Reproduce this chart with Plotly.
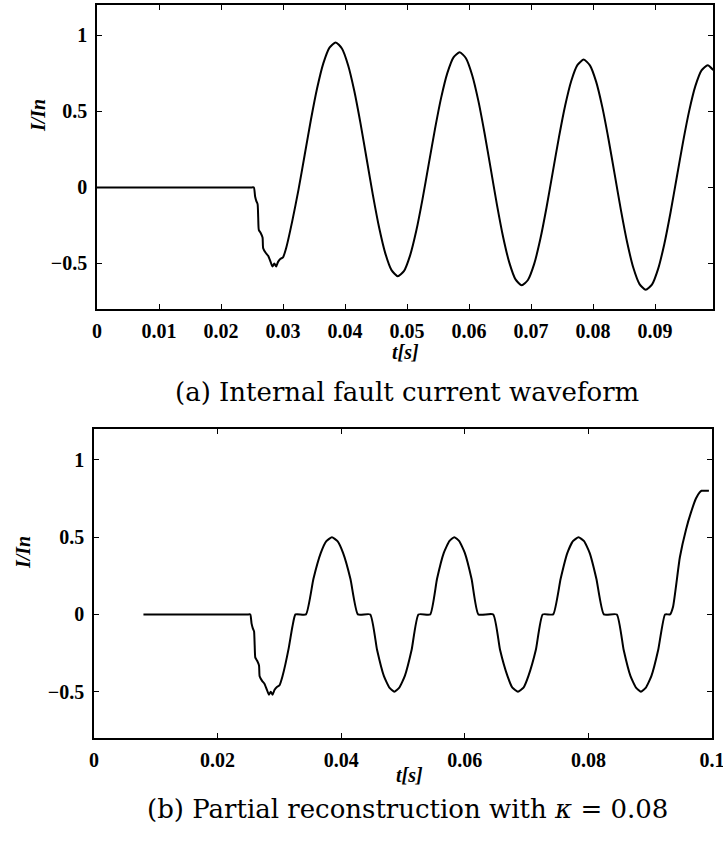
import plotly.graph_objects as go

# ---------------- data: (a) internal fault current waveform ----------------
t_a = [0.0, 0.0250, 0.0253, 0.0255, 0.0257, 0.0259, 0.0260, 0.0261, 0.0264, 0.0267,
       0.0268, 0.0272, 0.0276, 0.0280, 0.0283, 0.0286, 0.0289, 0.0292, 0.0296, 0.0300,
       0.0305, 0.0315, 0.0325, 0.0335, 0.0345, 0.0355, 0.0365, 0.0375, 0.0385, 0.0395,
       0.0405, 0.0415, 0.0425, 0.0435, 0.0445, 0.0455, 0.0465, 0.0475, 0.0485, 0.0495,
       0.0505, 0.0515, 0.0525, 0.0535, 0.0545, 0.0555, 0.0565, 0.0575, 0.0585, 0.0595,
       0.0605, 0.0615, 0.0625, 0.0635, 0.0645, 0.0655, 0.0665, 0.0675, 0.0685, 0.0695,
       0.0705, 0.0715, 0.0725, 0.0735, 0.0745, 0.0755, 0.0765, 0.0775, 0.0785, 0.0795,
       0.0805, 0.0815, 0.0825, 0.0835, 0.0845, 0.0855, 0.0865, 0.0875, 0.0885, 0.0895,
       0.0905, 0.0915, 0.0925, 0.0935, 0.0945, 0.0955, 0.0965, 0.0975, 0.0985, 0.0994]
i_a = [0.0, 0.0, 0.0, -0.06, -0.09, -0.11, -0.20, -0.28, -0.30, -0.33,
       -0.40, -0.43, -0.45, -0.49, -0.52, -0.50, -0.52, -0.49, -0.47, -0.46,
       -0.40, -0.22, -0.015, 0.215, 0.445, 0.652, 0.816, 0.920, 0.954, 0.914,
       0.804, 0.634, 0.421, 0.185, -0.051, -0.264, -0.434, -0.544, -0.584, -0.551,
       -0.447, -0.284, -0.077, 0.153, 0.382, 0.589, 0.752, 0.856, 0.889, 0.850,
       0.740, 0.571, 0.358, 0.123, -0.113, -0.326, -0.495, -0.605, -0.644, -0.609,
       -0.505, -0.340, -0.132, 0.099, 0.329, 0.537, 0.702, 0.806, 0.841, 0.803,
       0.696, 0.528, 0.317, 0.084, -0.150, -0.361, -0.529, -0.636, -0.674, -0.640,
       -0.536, -0.372, -0.165, 0.065, 0.295, 0.502, 0.666, 0.770, 0.804, 0.771]

# ---------------- data: (b) partial reconstruction ----------------
t_b = [0.0080, 0.0250, 0.0253, 0.0255, 0.0257, 0.0259, 0.0260, 0.0261, 0.0264, 0.0267,
       0.0268, 0.0272, 0.0276, 0.0280, 0.0283, 0.0286, 0.0289, 0.0292, 0.0296, 0.0300,
       0.0305, 0.0315, 0.0321, 0.0326,
       0.0343, 0.0355, 0.0367, 0.0376, 0.0385, 0.0394, 0.0403, 0.0415, 0.0427,
       0.0447, 0.0458, 0.0469, 0.0478, 0.0486, 0.0494, 0.0503, 0.0514, 0.0525,
       0.0544, 0.0555, 0.0566, 0.0575, 0.0583, 0.0591, 0.0600, 0.0611, 0.0622,
       0.0646, 0.0657, 0.0669, 0.0677, 0.0686, 0.0695, 0.0703, 0.0715, 0.0726,
       0.0743, 0.0755, 0.0766, 0.0775, 0.0784, 0.0793, 0.0802, 0.0813, 0.0825,
       0.0846, 0.0857, 0.0868, 0.0877, 0.0885, 0.0893, 0.0902, 0.0913, 0.0924,
       0.0932, 0.0937, 0.0948, 0.0958, 0.0966, 0.0974, 0.0980, 0.0983, 0.0995]
i_b = [0.0, 0.0, 0.0, -0.06, -0.09, -0.11, -0.20, -0.28, -0.30, -0.33,
       -0.40, -0.43, -0.45, -0.49, -0.52, -0.50, -0.52, -0.49, -0.47, -0.46,
       -0.40, -0.22, -0.08, 0.0,
       0.0, 0.229, 0.398, 0.474, 0.5, 0.474, 0.398, 0.229, 0.0,
       0.0, -0.229, -0.398, -0.474, -0.5, -0.474, -0.398, -0.229, 0.0,
       0.0, 0.229, 0.398, 0.474, 0.5, 0.474, 0.398, 0.229, 0.0,
       0.0, -0.229, -0.398, -0.474, -0.5, -0.474, -0.398, -0.229, 0.0,
       0.0, 0.229, 0.398, 0.474, 0.5, 0.474, 0.398, 0.229, 0.0,
       0.0, -0.229, -0.398, -0.474, -0.5, -0.474, -0.398, -0.229, 0.0,
       0.0, 0.05, 0.37, 0.55, 0.66, 0.75, 0.79, 0.80, 0.80]

x_ticks_a = [0, 0.01, 0.02, 0.03, 0.04, 0.05, 0.06, 0.07, 0.08, 0.09]
x_text_a = ["0", "0.01", "0.02", "0.03", "0.04", "0.05", "0.06", "0.07", "0.08", "0.09"]
x_ticks_b = [0, 0.02, 0.04, 0.06, 0.08, 0.1]
x_text_b = ["0", "0.02", "0.04", "0.06", "0.08", "0.1"]
y_ticks = [-0.5, 0, 0.5, 1]
y_text = ["\u22120.5", "0", "0.5", "1"]

caption_a = "(a) Internal fault current waveform"
caption_b = "(b) Partial reconstruction with <i>\u03ba</i> = 0.08"

W, H = 723, 842

fig = go.Figure()
fig.add_trace(go.Scatter(x=t_a, y=i_a, mode="lines", xaxis="x", yaxis="y",
                         line=dict(color="black", width=2, shape="spline", smoothing=0.6),
                         showlegend=False, hoverinfo="skip"))
fig.add_trace(go.Scatter(x=t_b, y=i_b, mode="lines", xaxis="x2", yaxis="y2",
                         line=dict(color="black", width=2, shape="spline", smoothing=0.45),
                         showlegend=False, hoverinfo="skip"))

tickfont = dict(family="Liberation Serif", size=20, color="black", weight="bold")
common = dict(showline=True, linecolor="black", linewidth=1.6, mirror="allticks",
              ticks="inside", ticklen=5, tickwidth=1.4, tickcolor="black",
              showgrid=False, zeroline=False, tickfont=tickfont, fixedrange=True,
              automargin=False, ticklabeloverflow="allow")

fig.update_layout(
    width=W, height=H, margin=dict(l=0, r=0, t=0, b=0, autoexpand=False),
    paper_bgcolor="white", plot_bgcolor="white",
    xaxis=dict(domain=[97 / W, 713 / W], range=[0, 0.09935], anchor="y",
               tickvals=x_ticks_a, ticktext=x_text_a, ticklabelstandoff=3, **common),
    yaxis=dict(domain=[1 - 309 / H, 1 - 5 / H], range=[-0.8, 1.2], anchor="x",
               tickvals=y_ticks, ticktext=y_text, ticklabelstandoff=4, **common),
    xaxis2=dict(domain=[94 / W, 712 / W], range=[0, 0.1], anchor="y2",
                tickvals=x_ticks_b, ticktext=x_text_b, ticklabelstandoff=3, **common),
    yaxis2=dict(domain=[1 - 738 / H, 1 - 429 / H], range=[-0.8, 1.2], anchor="x2",
                tickvals=y_ticks, ticktext=y_text, ticklabelstandoff=4, **common),
)

lab = dict(family="Liberation Serif", size=20, color="black")
cap = dict(family="DejaVu Serif", size=26, color="black")

annotations = [
    dict(text="<b><i>I/In</i></b>", x=38 / W, y=1 - 116 / H, textangle=-90, font=lab),
    dict(text="<b><i>t[s]</i></b>", x=405 / W, y=1 - 352 / H, font=lab),
    dict(text=caption_a, x=407 / W, y=1 - 392 / H, font=cap),
    dict(text="<b><i>I/In</i></b>", x=23 / W, y=1 - 553 / H, textangle=-90, font=lab),
    dict(text="<b><i>t[s]</i></b>", x=409 / W, y=1 - 775 / H, font=lab),
    dict(text=caption_b, x=407 / W, y=1 - 809 / H, font=cap),
]
for a in annotations:
    fig.add_annotation(xref="paper", yref="paper", xanchor="center", yanchor="middle",
                       showarrow=False, **a)

fig.write_html("out.html")
